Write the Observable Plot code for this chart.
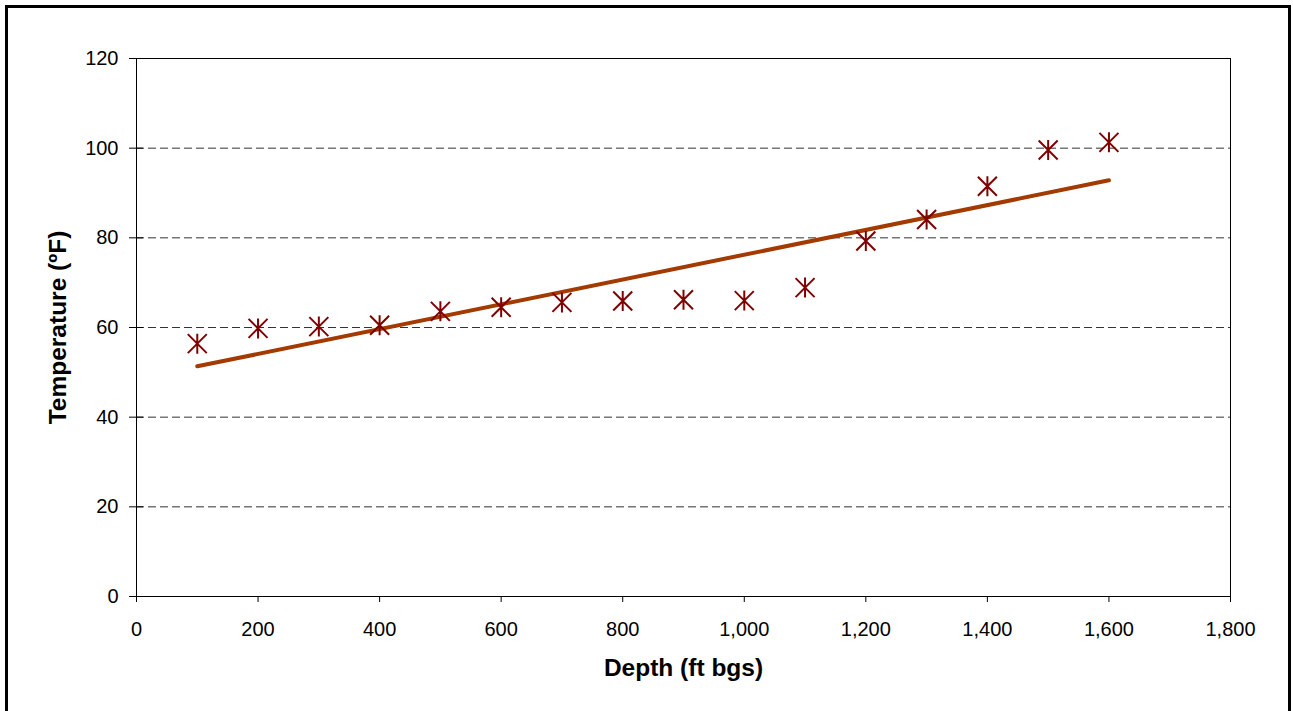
<!DOCTYPE html>
<html>
<head>
<meta charset="utf-8">
<script src="https://cdn.jsdelivr.net/npm/d3@7"></script>
<script src="https://cdn.jsdelivr.net/npm/@observablehq/plot@0.6"></script>
<style>
  html, body { margin: 0; padding: 0; background: #fff; width: 1293px; height: 711px; overflow: hidden; }
  #frame { position: absolute; left: 5px; top: 5px; width: 1280px; height: 720px; border: 3px solid #000; box-sizing: content-box; pointer-events: none; }
  #chart { position: absolute; left: 0; top: 0; }
</style>
</head>
<body>
<div id="chart"></div>
<div id="frame"></div>
<script>
const depths = [100, 200, 300, 400, 500, 600, 700, 800, 900, 1000, 1100, 1200, 1300, 1400, 1500, 1600];
const temps  = [56.4, 59.8, 60.2, 60.5, 63.6, 64.5, 65.6, 65.9, 66.2, 66.0, 68.9, 79.3, 84.1, 91.5, 99.6, 101.3];
const xTicks = [0, 200, 400, 600, 800, 1000, 1200, 1400, 1600, 1800];
const yTicks = [0, 20, 40, 60, 80, 100, 120];
const gridLines = [20, 40, 60, 80, 100];

const data = depths.map((d, i) => ({depth: d, temp: temps[i]}));

// asterisk marker: X plus vertical bar
const asterisk = {
  draw(context, size) {
    const s = Math.sqrt(size / Math.PI);
    const d = s * 0.95;
    context.moveTo(-d, -d); context.lineTo(d, d);
    context.moveTo(d, -d); context.lineTo(-d, d);
    context.moveTo(0, -s); context.lineTo(0, s);
  }
};

const font = "Arial, 'Liberation Sans', sans-serif";

const chart = Plot.plot({
  width: 1293,
  height: 711,
  marginLeft: 136,
  marginRight: 63,
  marginTop: 58,
  marginBottom: 115,
  style: { fontFamily: font, fontSize: "20px", background: "transparent", color: "#000" },
  x: { domain: [0, 1800] },
  y: { domain: [0, 120] },
  marks: [
    Plot.ruleY(gridLines, { stroke: "#333", strokeWidth: 1, strokeDasharray: "8,4" }),
    Plot.frame({ stroke: "#000", strokeWidth: 1 }),
    // crossing y tick marks
    Plot.ruleY(yTicks, { x1: 0, x2: 0, insetLeft: -7, insetRight: -7, stroke: "#000", strokeWidth: 1 }),
    Plot.axisY({ ticks: yTicks, tickSize: 0, tickPadding: 18, fontSize: 20, label: null }),
    Plot.axisX({ ticks: xTicks, tickSize: 6, tickPadding: 19, fontSize: 20, tickFormat: d3.format(","), label: null, stroke: "#000" }),
    Plot.linearRegressionY(data, { x: "depth", y: "temp", stroke: "#A33A00", strokeWidth: 4, ci: 0, strokeLinecap: "round" }),
    Plot.dot(data, { x: "depth", y: "temp", symbol: asterisk, r: 10, stroke: "#800000", strokeWidth: 2, fill: "none" }),
    Plot.text(["Depth (ft bgs)"], { frameAnchor: "bottom", dy: 79, fontSize: 24.5, fontWeight: "bold", fill: "#000" }),
    Plot.text(["Temperature (ºF)"], { frameAnchor: "left", textAnchor: "middle", dx: -78, rotate: -90, fontSize: 24.5, fontWeight: "bold", fill: "#000" })
  ]
});
document.getElementById("chart").appendChild(chart);
</script>
</body>
</html>
